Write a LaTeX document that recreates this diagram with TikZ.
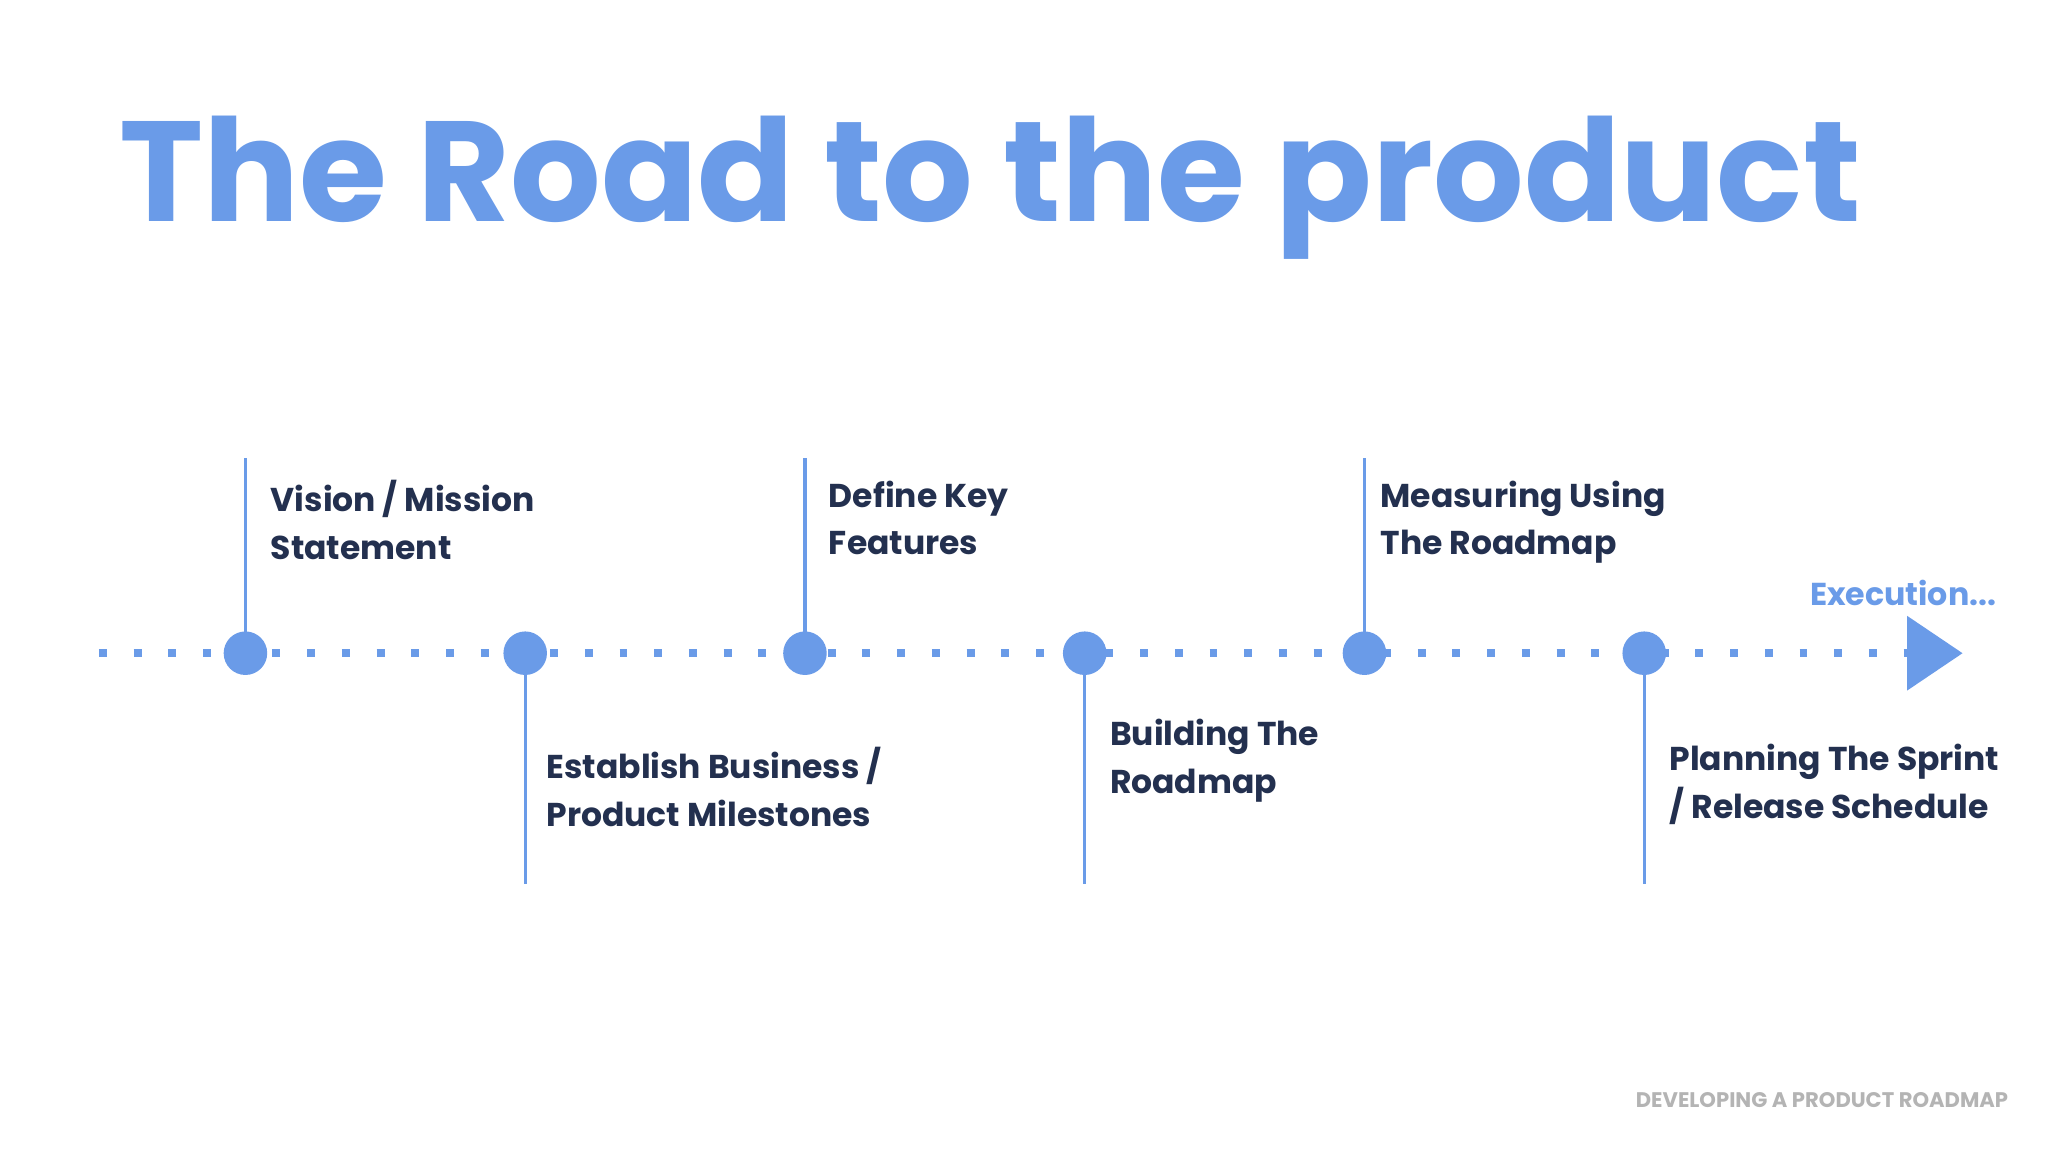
\documentclass[tikz,border=0pt]{standalone}
\usepackage{fontspec}
\setmainfont{Poppins}
\usetikzlibrary{shapes.geometric}
\begin{document}
\begin{tikzpicture}[x=1pt,y=-1pt,
  blu/.style={draw=lineblue,line width=2.5pt},
  dot/.style={circle,fill=lineblue,minimum size=33pt,inner sep=0pt},
  lbl/.style={anchor=north west,inner sep=0pt,align=left,text=navy,font=\fontsize{25}{36}\selectfont\bfseries}]
\definecolor{lineblue}{HTML}{6A9BE8}
\definecolor{navy}{HTML}{23304F}
\definecolor{foot}{HTML}{B4B4B4}
\useasboundingbox[fill=white] (0,0) rectangle (1552,873);
\node[anchor=base west,inner sep=0pt,text=lineblue,font=\fontsize{108}{110}\selectfont\bfseries] (title) at (90,168) {The Road to the product};
\coordinate (ls) at (75,495);
\coordinate (le) at (1445,495);
\draw[lineblue,line width=6pt,dash pattern=on 6pt off 20.3pt] (ls) -- (le);
\node[fill=lineblue,isosceles triangle,isosceles triangle apex angle=68,minimum height=42pt,inner sep=0pt,anchor=west] (arr) at (1445,495) {};
\foreach \i/\x/\d in {1/186/-1,2/398/1,3/610/-1,4/822/1,5/1034/-1,6/1246/1}{
  \coordinate (t\i) at (\x,{495+\d*(\d<0?148:175)});
  \node[dot] (d\i) at (\x,495) {};
  \draw[blu] (d\i.center) -- (t\i);
}
\node[lbl] (l1) at (205,364) {Vision / Mission\\Statement};
\node[lbl] (l3) at (628,364) {Define Key\\Features};
\node[lbl] (l5) at (1046,364) {Measuring Using\\The Roadmap};
\node[lbl] (l2) at (414,566) {Establish Business /\\Product Milestones};
\node[lbl] (l4) at (841,545) {Building The\\Roadmap};
\node[lbl] (l6) at (1265,564) {Planning The Sprint\\/ Release Schedule};
\node[anchor=base east,inner sep=0pt,text=lineblue,font=\fontsize{24}{28}\selectfont\bfseries] (ex) at (1513,459) {Execution...};
\node[anchor=base east,inner sep=0pt,text=foot,font=\fontsize{16}{18}\selectfont\bfseries] (ft) at (1522,839) {DEVELOPING A PRODUCT ROADMAP};
\end{tikzpicture}
\end{document}
